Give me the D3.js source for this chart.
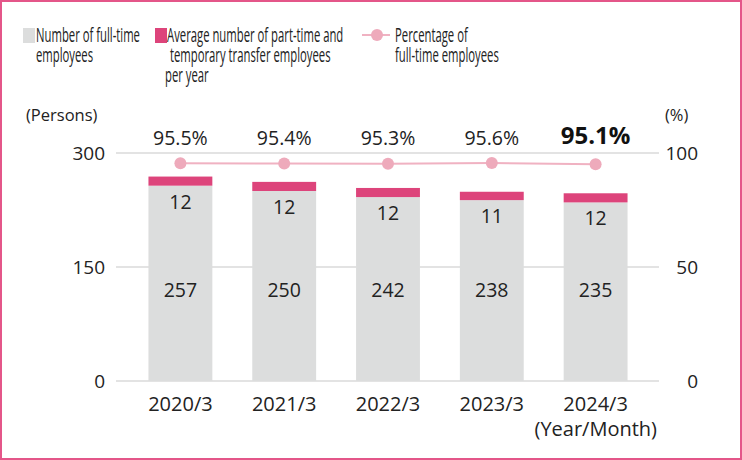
<!DOCTYPE html>
<html><head><meta charset="utf-8">
<script src="https://cdn.jsdelivr.net/npm/d3@7"></script>
<style>
html,body{margin:0;padding:0;background:#fff;}
svg{display:block;font-family:"Open Sans","Noto Sans",sans-serif;}
</style></head>
<body><svg id="c" width="742" height="460"></svg>
<script>
const categories = ["2020/3","2021/3","2022/3","2023/3","2024/3"];
const fullTime = [257,250,242,238,235];
const partTime = [12,12,12,11,12];
const percentage = [95.5,95.4,95.3,95.6,95.1];
const leftTicks = [0,150,300];
const rightTicks = [0,50,100];

const svg = d3.select("#c");
const W=742,H=460;
const colGray="#dcdddd", colPink="#dd447b", colLine="#f0b2c2", colDot="#eeaabb", colBorder="#e45689";

svg.append("rect").attr("x",1).attr("y",1).attr("width",W-2).attr("height",H-2)
  .attr("fill","#fff").attr("stroke",colBorder).attr("stroke-width",2);

const plotL=116, plotR=659, y0=381, yTop=153;
const x = d3.scaleBand().domain(categories).range([128.5,647.5]).paddingInner(40/104).paddingOuter(0.1923);
const yL = d3.scaleLinear().domain([0,300]).range([y0,yTop]);
const yR = d3.scaleLinear().domain([0,100]).range([y0,yTop]);

svg.append("g").selectAll("line").data(leftTicks).join("line")
  .attr("x1",plotL).attr("x2",plotR).attr("y1",d=>yL(d)).attr("y2",d=>yL(d))
  .attr("stroke","#c8c8c8").attr("stroke-width",1.2);

svg.append("g").selectAll("text").data(leftTicks).join("text")
  .attr("x",105).attr("y",d=>yL(d)+7).attr("text-anchor","end")
  .attr("font-size",19).attr("fill","#222").text(d=>d);
svg.append("g").selectAll("text").data(rightTicks).join("text")
  .attr("x",698).attr("y",d=>yR(d)+7).attr("text-anchor","end")
  .attr("font-size",19).attr("fill","#222").text(d=>d);

svg.append("text").attr("x",26).attr("y",121).attr("font-size",16.5).attr("fill","#222").text("(Persons)");
svg.append("text").attr("x",665).attr("y",121).attr("font-size",16.5).attr("fill","#222").text("(%)");

const data = categories.map((c,i)=>({c,f:fullTime[i],p:partTime[i],pct:percentage[i],i}));

svg.append("g").selectAll("rect").data(data).join("rect")
  .attr("x",d=>x(d.c)).attr("width",x.bandwidth())
  .attr("y",d=>yL(d.f)).attr("height",d=>yL(0)-yL(d.f)).attr("fill",colGray);
svg.append("g").selectAll("rect").data(data).join("rect")
  .attr("x",d=>x(d.c)).attr("width",x.bandwidth())
  .attr("y",d=>yL(d.f+d.p)).attr("height",d=>yL(d.f)-yL(d.f+d.p)).attr("fill",colPink);

svg.append("g").selectAll("text").data(data).join("text")
  .attr("x",d=>x(d.c)+x.bandwidth()/2).attr("y",297).attr("text-anchor","middle")
  .attr("font-size",19.5).attr("fill","#222").text(d=>d.f);
svg.append("g").selectAll("text").data(data).join("text")
  .attr("x",d=>x(d.c)+x.bandwidth()/2).attr("y",d=>yL(d.f)+23).attr("text-anchor","middle")
  .attr("font-size",19.5).attr("fill","#222").text(d=>d.p);

const cx = d=>x(d.c)+x.bandwidth()/2;
svg.append("path").datum(data)
  .attr("d",d3.line().x(cx).y(d=>yR(d.pct)))
  .attr("fill","none").attr("stroke",colLine).attr("stroke-width",2);
svg.append("g").selectAll("circle").data(data).join("circle")
  .attr("cx",cx).attr("cy",d=>yR(d.pct)).attr("r",6).attr("fill",colDot);

svg.append("g").selectAll("text").data(data).join("text")
  .attr("x",cx).attr("y",d=>d.i===data.length-1?144:145).attr("text-anchor","middle")
  .attr("font-size",d=>d.i===data.length-1?24:19.5)
  .attr("font-weight",d=>d.i===data.length-1?"bold":"normal")
  .attr("fill",d=>d.i===data.length-1?"#111":"#222")
  .text(d=>d.pct.toFixed(1)+"%");

svg.append("g").selectAll("text").data(categories).join("text")
  .attr("x",d=>x(d)+x.bandwidth()/2).attr("y",411).attr("text-anchor","middle")
  .attr("font-size",20).attr("fill","#222").text(d=>d);
svg.append("text").attr("x",657).attr("y",436).attr("text-anchor","end")
  .attr("font-size",20).attr("fill","#222").text("(Year/Month)");

// legend (condensed text)
const legFont = 20.5;
const probe = svg.append("text").attr("font-size",legFont).text("Number of full-time");
const sx = 104 / probe.node().getComputedTextLength();
probe.remove();
function condText(x0,y,str){
  const g = svg.append("g").attr("transform",`translate(${x0},${y}) scale(${sx},1)`);
  g.append("text").attr("x",0).attr("y",0).attr("font-size",legFont).attr("fill","#222")
    .style("white-space","pre").text(str);
}
svg.append("rect").attr("x",23).attr("y",28).attr("width",12).attr("height",15).attr("fill",colGray);
condText(36,42,"Number of full-time");
condText(36,62,"employees");
svg.append("rect").attr("x",155).attr("y",28).attr("width",12).attr("height",15).attr("fill",colPink);
condText(167,42,"Average number of part-time and");
condText(167,62," temporary transfer employees");
condText(165,82,"per year");
svg.append("line").attr("x1",362).attr("x2",390).attr("y1",35).attr("y2",35).attr("stroke",colLine).attr("stroke-width",2);
svg.append("circle").attr("cx",377).attr("cy",35).attr("r",6).attr("fill",colDot);
condText(395,42,"Percentage of");
condText(395,62,"full-time employees");
</script></body></html>
